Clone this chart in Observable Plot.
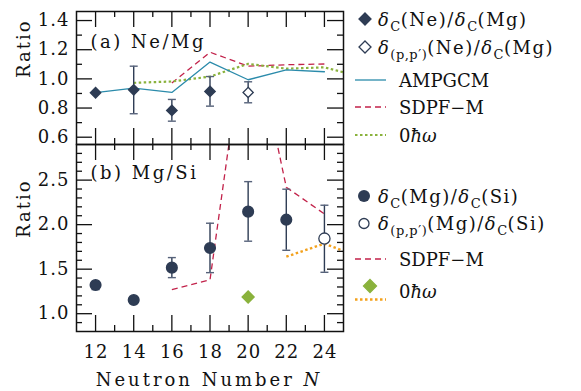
<!DOCTYPE html>
<html><head><meta charset="utf-8">
<script src="https://cdn.jsdelivr.net/npm/d3@7"></script>
<script src="https://cdn.jsdelivr.net/npm/@observablehq/plot@0.6"></script>
<style>
body{margin:0;background:#fff;}
#wrap{position:relative;width:581px;height:391px;}
#wrap svg{position:absolute;left:0;top:0;overflow:visible;}
#wrap svg text{font-family:'DejaVu Serif',serif;font-size:18px;letter-spacing:0px;}
#wrap g[aria-description="tick-label"] text{letter-spacing:1px;}
#wrap g[aria-description="panel-label"] text{letter-spacing:2.5px;}
#wrap g[aria-description="y-axis-label"] text{letter-spacing:2px;}
#wrap svg text.delta{letter-spacing:1.5px;}
#wrap svg text tspan.sub{font-size:13px;letter-spacing:0.5px;}
#wrap svg text.title{letter-spacing:3px;}
</style></head><body><div id="wrap"></div>
<script>
// ---------- data ----------
const xMajor = [12, 14, 16, 18, 20, 22, 24];
const xMinor = [13, 15, 17, 19, 21, 23];
const yMajorA = [0.6, 0.8, 1.0, 1.2, 1.4];
const yMinorA = [0.7, 0.9, 1.1, 1.3];
const yMajorB = [1.0, 1.5, 2.0, 2.5];
const yMinorB = [0.9, 1.1, 1.2, 1.3, 1.4, 1.6, 1.7, 1.8, 1.9, 2.1, 2.2, 2.3, 2.4, 2.6, 2.7, 2.8];

// (a) Ne/Mg
const neN = [12, 14, 16, 18];
const neVal = [0.905, 0.925, 0.784, 0.914];
const neLow = [null, 0.761, 0.71, 0.813];
const neHigh = [null, 1.087, 0.859, 1.016];
const nePPN = [20];
const nePPVal = [0.907];
const nePPLow = [0.836];
const nePPHigh = [0.98];
const ampN = [12, 14, 16, 18, 20, 22, 24];
const ampVal = [0.905, 0.936, 0.907, 1.115, 0.994, 1.062, 1.049];
const sdpfAN = [16, 18, 20, 22, 24];
const sdpfAVal = [0.971, 1.183, 1.087, 1.097, 1.102];
const zeroAN = [14, 16, 18, 20, 22, 24, 25];
const zeroAVal = [0.973, 0.982, 1.016, 1.103, 1.07, 1.079, 1.045];

// (b) Mg/Si
const mgN = [12, 14, 16, 18, 20, 22];
const mgVal = [1.322, 1.154, 1.517, 1.738, 2.146, 2.056];
const mgLow = [1.27, null, 1.405, 1.461, 1.814, 1.712];
const mgHigh = [1.36, null, 1.63, 2.016, 2.483, 2.398];
const mgPPN = [24];
const mgPPVal = [1.843];
const mgPPLow = [1.465];
const mgPPHigh = [2.218];
const sdpfBN = [16, 18, 20, 22, 24];
const sdpfBVal = [1.27, 1.38, 4.45, 2.42, 2.12];
const zeroBN = [22, 24, 25];
const zeroBVal = [1.64, 1.787, 1.705];
const zeroDiaN = [20];
const zeroDiaVal = [1.188];

// ---------- styling ----------
const navy = "#2e3c54", teal = "#2b8bab", crimson = "#c2224a", green = "#8ab23c", orange = "#f3a11c", ink = "#111";
const W = 581, ML = 76, MR = 238;
const FW = W - ML - MR;
const font = {background: "transparent", overflow: "visible"};
const fmt = d3.format(".1f");
const capSymbol = {draw(ctx, size) { const w = Math.sqrt(size / Math.PI); ctx.moveTo(-w, 0); ctx.lineTo(w, 0); }};

const rows = (ns, vs, lo, hi) => ns.map((n, i) => ({n, v: vs[i], lo: lo ? lo[i] : null, hi: hi ? hi[i] : null}));
const errMarks = (data) => {
  const e = data.filter(d => d.lo != null);
  return [
    Plot.ruleX(e, {x: "n", y1: "lo", y2: "hi", stroke: navy, strokeWidth: 1.4}),
    Plot.dot(e, {x: "n", y: "lo", symbol: capSymbol, r: 4, stroke: "#56627a", strokeWidth: 1.4}),
    Plot.dot(e, {x: "n", y: "hi", symbol: capSymbol, r: 4, stroke: "#56627a", strokeWidth: 1.4})
  ];
};
const tickMarks = (FH, yMaj, yMin) => [
  Plot.tickX(xMajor, {x: d => d, insetTop: FH - 16, stroke: ink, strokeWidth: 1.3}),
  Plot.tickX(xMajor, {x: d => d, insetBottom: FH - 16, stroke: ink, strokeWidth: 1.3}),
  Plot.tickX(xMinor, {x: d => d, insetTop: FH - 6, stroke: ink, strokeWidth: 1.3}),
  Plot.tickX(xMinor, {x: d => d, insetBottom: FH - 6, stroke: ink, strokeWidth: 1.3}),
  Plot.tickY(yMaj, {y: d => d, insetRight: FW - 16, stroke: ink, strokeWidth: 1.3}),
  Plot.tickY(yMaj, {y: d => d, insetLeft: FW - 16, stroke: ink, strokeWidth: 1.3}),
  Plot.tickY(yMin, {y: d => d, insetRight: FW - 6, stroke: ink, strokeWidth: 1.3}),
  Plot.tickY(yMin, {y: d => d, insetLeft: FW - 6, stroke: ink, strokeWidth: 1.3}),
  Plot.text(yMaj, {y: d => d, text: d => fmt(d), frameAnchor: "left", textAnchor: "end", dx: -7, fill: ink, ariaDescription: "tick-label"})
];
const dotted = {strokeDasharray: "2.5,2.5", strokeLinecap: "butt", clip: true};

const wrap = document.getElementById("wrap");

// ---------- panel (a) ----------
const neData = rows(neN, neVal, neLow, neHigh);
const nePP = rows(nePPN, nePPVal, nePPLow, nePPHigh);
const plotA = Plot.plot({
  width: W, height: 145, marginLeft: ML, marginRight: MR, marginTop: 11, marginBottom: 1,
  style: font,
  x: {domain: [11, 25], axis: null},
  y: {domain: [0.55, 1.462], axis: null},
  marks: [
    Plot.line(rows(sdpfAN, sdpfAVal), {x: "n", y: "v", stroke: crimson, strokeWidth: 1.3, strokeDasharray: "6,4", strokeLinecap: "butt", clip: true}),
    Plot.line(rows(zeroAN, zeroAVal), {x: "n", y: "v", stroke: green, strokeWidth: 2.2, ...dotted}),
    Plot.line(rows(ampN, ampVal), {x: "n", y: "v", stroke: teal, strokeWidth: 1.3, clip: true}),
    ...errMarks(neData), ...errMarks(nePP),
    Plot.dot(neData, {x: "n", y: "v", symbol: "diamond2", r: 4.6, fill: navy, stroke: navy}),
    Plot.dot(nePP, {x: "n", y: "v", symbol: "diamond2", r: 4.6, fill: "white", stroke: navy, strokeWidth: 1.3}),
    ...tickMarks(133, yMajorA, yMinorA),
    Plot.text(["(a) Ne/Mg"], {frameAnchor: "top-left", textAnchor: "start", lineAnchor: "middle", dx: 14, dy: 31, fill: ink, ariaDescription: "panel-label"}),
    Plot.text(["Ratio"], {frameAnchor: "left", rotate: -90, dx: -52, fill: ink, ariaDescription: "y-axis-label"}),
    Plot.frame({stroke: ink, strokeWidth: 1.5})
  ]
});
wrap.appendChild(plotA);

// ---------- panel (b) ----------
const mgData = rows(mgN, mgVal, mgLow, mgHigh);
const mgPP = rows(mgPPN, mgPPVal, mgPPLow, mgPPHigh);
const plotB = Plot.plot({
  width: W, height: 391, marginLeft: ML, marginRight: MR, marginTop: 144, marginBottom: 60,
  style: font,
  x: {domain: [11, 25], axis: null},
  y: {domain: [0.8, 2.9], axis: null},
  marks: [
    Plot.line(rows(sdpfBN, sdpfBVal), {x: "n", y: "v", stroke: crimson, strokeWidth: 1.3, strokeDasharray: "6,4", strokeLinecap: "butt", clip: true}),
    Plot.line(rows(zeroBN, zeroBVal), {x: "n", y: "v", stroke: orange, strokeWidth: 2.4, ...dotted}),
    ...errMarks(mgData), ...errMarks(mgPP),
    Plot.dot(mgData, {x: "n", y: "v", r: 5.3, fill: navy, stroke: navy}),
    Plot.dot(mgPP, {x: "n", y: "v", r: 5.6, fill: "white", stroke: navy, strokeWidth: 1.3}),
    Plot.dot(rows(zeroDiaN, zeroDiaVal), {x: "n", y: "v", symbol: "diamond2", r: 5.3, fill: green, stroke: green}),
    ...tickMarks(187, yMajorB, yMinorB),
    Plot.text(xMajor, {x: d => d, text: d => String(d), frameAnchor: "bottom", lineAnchor: "middle", dy: 21, dx: 0.5, fill: ink, ariaDescription: "tick-label"}),
    Plot.text(["(b) Mg/Si"], {frameAnchor: "top-left", textAnchor: "start", lineAnchor: "middle", dx: 14, dy: 29, fill: ink, ariaDescription: "panel-label"}),
    Plot.text(["Ratio"], {frameAnchor: "left", rotate: -90, dx: -52, fill: ink, ariaDescription: "y-axis-label"}),
    Plot.frame({stroke: ink, strokeWidth: 1.5})
  ]
});
wrap.appendChild(plotB);

// ---------- legend & axis title ----------
const svg = d3.select(wrap).append("svg").attr("width", W).attr("height", 391);

function rich(x, cy, parts, cls) {
  const t = svg.append("text").attr("x", x).attr("y", cy + 6.5).attr("fill", ink).attr("class", cls || null);
  let shifted = false;
  for (const [s, kind] of parts) {
    const ts = t.append("tspan").text(s);
    if (kind === "i") ts.attr("font-style", "italic");
    if (kind === "sub") { ts.attr("class", "sub").attr("dy", shifted ? 0 : 5); shifted = true; }
    else if (shifted) { ts.attr("dy", -5); shifted = false; }
  }
  return t;
}
const diamond = (cx, cy, r, fill, stroke) => svg.append("path")
  .attr("d", `M${cx},${cy - r}L${cx + r},${cy}L${cx},${cy + r}L${cx - r},${cy}Z`)
  .attr("fill", fill).attr("stroke", stroke).attr("stroke-width", 1.3);
const sample = (cy, color, width, dash) => svg.append("line").attr("x1", 355).attr("x2", 386).attr("y1", cy).attr("y2", cy)
  .attr("stroke", color).attr("stroke-width", width).attr("stroke-dasharray", dash);

// (a)
diamond(365, 19, 6, navy, navy);
rich(378, 19, [["δ", "i"], ["C", "sub"], ["(Ne)/"], ["δ", "i"], ["C", "sub"], ["(Mg)"]], "delta");
diamond(365, 47, 6, "white", navy);
rich(378, 47, [["δ", "i"], ["(p,p′)", "sub"], ["(Ne)/"], ["δ", "i"], ["C", "sub"], ["(Mg)"]], "delta");
sample(80, teal, 1.3, null);
rich(399, 80, [["AMPGCM"]]);
sample(107, crimson, 1.3, "6,4");
rich(399, 107, [["SDPF−M"]]);
sample(135, green, 2.2, "2.5,2.5");
rich(399, 135, [["0"], ["ħω", "i"]]);
// (b)
svg.append("circle").attr("cx", 364).attr("cy", 196).attr("r", 6).attr("fill", navy);
rich(378, 196, [["δ", "i"], ["C", "sub"], ["(Mg)/"], ["δ", "i"], ["C", "sub"], ["(Si)"]], "delta");
svg.append("circle").attr("cx", 364).attr("cy", 223.5).attr("r", 5).attr("fill", "white").attr("stroke", navy).attr("stroke-width", 1.3);
rich(378, 223.5, [["δ", "i"], ["(p,p′)", "sub"], ["(Mg)/"], ["δ", "i"], ["C", "sub"], ["(Si)"]], "delta");
sample(259, crimson, 1.3, "6,4");
rich(399, 259, [["SDPF−M"]]);
diamond(370, 286, 6.5, green, green);
sample(299.5, orange, 2.4, "2.5,2.5");
rich(399, 291, [["0"], ["ħω", "i"]]);

// x axis title
const title = svg.append("text").attr("class", "title").attr("x", 209).attr("y", 386).attr("text-anchor", "middle").attr("fill", ink);
title.append("tspan").text("Neutron Number ");
title.append("tspan").attr("font-style", "italic").text("N");
</script>
</body></html>
